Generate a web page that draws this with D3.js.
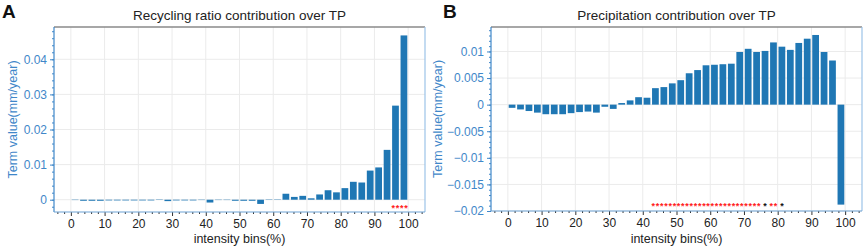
<!DOCTYPE html>
<html><head><meta charset="utf-8">
<script src="https://cdn.jsdelivr.net/npm/d3@7"></script>
<style>
body{margin:0;background:#fff;}
svg{font-family:"Liberation Sans",Arial,sans-serif;}
</style></head><body>
<svg id="c" width="865" height="246"></svg>
<script>
// bin centres (%), 40 bins of 2.5%
const bins = d3.range(40).map(k => 1.25 + 2.5 * k);
const recyclingValues = [-0.0001,-0.0003,-0.0003,-0.0003,-0.0002,-0.0002,-0.0002,-0.0002,-0.0002,-0.0002,
  0.0001,-0.0004,-0.0002,-0.0002,-0.0002,-0.0001,-0.0008,-0.0001,-0.0001,-0.0003,
  -0.0003,-0.0003,-0.0012,0.0001,0.0001,0.0017,0.0008,0.0011,0.0004,0.0015,
  0.0027,0.0021,0.0033,0.0051,0.0049,0.0083,0.0092,0.0142,0.0268,0.0468];
const precipValues = [-0.0006,-0.0009,-0.0012,-0.0015,-0.0018,-0.0018,-0.0018,-0.0016,-0.0014,-0.0013,
  -0.0015,-0.0004,-0.0008,0.0003,0.0008,0.0014,0.0013,0.0031,0.0033,0.0040,
  0.0046,0.0059,0.0065,0.0074,0.0075,0.0076,0.0077,0.0099,0.0105,0.0099,
  0.0101,0.0117,0.0109,0.0103,0.0116,0.0124,0.0131,0.0099,0.0083,-0.0188];
// significance markers per bin
const recyclingSig = bins.map((b,i) => i >= 38 ? "**" : "");
const precipSig = bins.map((b,i) => (i >= 17 && i <= 29) || i === 31 ? "**" : (i === 30 || i === 32 ? "*" : ""));
const xTicks = d3.range(0, 101, 10);
const recyclingYTicks = [0, 0.01, 0.02, 0.03, 0.04];
const precipYTicks = [-0.02, -0.015, -0.01, -0.005, 0, 0.005, 0.01];

const svg = d3.select("#c");
const blue = "#3f87c9", barColor = "#1f77b4";

function panel(o){
  const g = svg.append("g");
  const x = d3.scaleLinear().domain([-5,105]).range([o.left,o.right]);
  const y = d3.scaleLinear().domain(o.ydom).range([o.bottom,o.top]);
  // grid
  g.append("g").selectAll("line").data(xTicks).join("line")
    .attr("x1",d=>x(d)).attr("x2",d=>x(d)).attr("y1",o.top).attr("y2",o.bottom)
    .attr("stroke","#ebebeb").attr("stroke-width",1);
  g.append("g").selectAll("line").data(o.yticks).join("line")
    .attr("x1",o.left).attr("x2",o.right).attr("y1",d=>y(d)).attr("y2",d=>y(d))
    .attr("stroke","#ebebeb").attr("stroke-width",1);
  // bars
  const bw = x(2) - x(0);
  g.append("g").selectAll("rect").data(bins).join("rect")
    .attr("x",(d)=>x(d)-bw/2).attr("width",bw)
    .attr("y",(d,i)=>y(Math.max(0,o.values[i])))
    .attr("height",(d,i)=>Math.abs(y(o.values[i])-y(0)))
    .attr("fill",barColor);
  // significance: each star as its own glyph, evenly spaced within the bin
  const stars = [];
  bins.forEach((b,i) => {
    const s = o.sig[i];
    if (s === "**") { stars.push({x:b-0.625, c:"#ff2020"}); stars.push({x:b+0.625, c:"#ff2020"}); }
    else if (s === "*") stars.push({x:b, c:"#111"});
  });
  g.append("g").selectAll("text").data(stars).join("text")
    .attr("x",d=>x(d.x)).attr("y",o.sigY).attr("text-anchor","middle")
    .attr("font-size",9).attr("font-weight","bold")
    .attr("fill",d=>d.c).text("*");
  // x axis
  const xa = g.append("g").attr("transform",`translate(0,${o.bottom})`)
    .call(d3.axisBottom(x).tickValues(xTicks).tickSize(4).tickPadding(3).tickFormat(d3.format("d")));
  xa.select(".domain").remove();
  xa.selectAll("line").attr("stroke","#333");
  xa.selectAll("text").attr("font-size",12).attr("fill","#222").attr("font-family","Liberation Sans, Arial, sans-serif");
  const xm = g.append("g").attr("transform",`translate(0,${o.bottom})`)
    .call(d3.axisBottom(x).tickValues(d3.range(-4,105,2).filter(v=>v%10!==0)).tickSize(2).tickFormat(""));
  xm.select(".domain").remove();
  xm.selectAll("line").attr("stroke","#333");
  // y axis
  const fmt = d => d===0 ? "0" : (d<0 ? "\u2212" : "") + String(Math.abs(+d.toFixed(4)));
  const ya = g.append("g").attr("transform",`translate(${o.left},0)`)
    .call(d3.axisLeft(y).tickValues(o.yticks).tickSize(4).tickPadding(3).tickFormat(fmt));
  ya.select(".domain").remove();
  ya.selectAll("line").attr("stroke",blue);
  ya.selectAll("text").attr("font-size",12).attr("fill",blue).attr("font-family","Liberation Sans, Arial, sans-serif");
  const minor = d3.range(Math.round(o.ydom[0]/o.minorStep), Math.round(o.ydom[1]/o.minorStep)+1).map(k=>k*o.minorStep)
     .filter(v => v>=o.ydom[0]-1e-9 && v<=o.ydom[1]);
  const ym = g.append("g").attr("transform",`translate(${o.left},0)`)
    .call(d3.axisLeft(y).tickValues(minor).tickSize(2).tickFormat(""));
  ym.select(".domain").remove();
  ym.selectAll("line").attr("stroke",blue);
  // spines
  g.append("line").attr("x1",o.left).attr("x2",o.right).attr("y1",o.top).attr("y2",o.top).attr("stroke","#8a8a8a").attr("stroke-width",1.5);
  g.append("line").attr("x1",o.left).attr("x2",o.left).attr("y1",o.top).attr("y2",o.bottom).attr("stroke",blue).attr("stroke-width",1.2);
  g.append("line").attr("x1",o.right).attr("x2",o.right).attr("y1",o.top).attr("y2",o.bottom).attr("stroke","#9cc3e8").attr("stroke-width",1.2);
  g.append("line").attr("x1",o.left).attr("x2",o.right).attr("y1",o.bottom).attr("y2",o.bottom).attr("stroke","#6ea3d6").attr("stroke-width",1.2);
  // titles
  g.append("text").attr("x",(o.left+o.right)/2).attr("y",o.top-7).attr("text-anchor","middle")
    .attr("font-size",13.5).attr("fill","#222").text(o.title);
  g.append("text").attr("x",(o.left+o.right)/2).attr("y",243).attr("text-anchor","middle")
    .attr("font-size",12.5).attr("fill","#222").text("intensity bins(%)");
  g.append("text").attr("transform",`translate(${o.ylabX},${(o.top+o.bottom)/2}) rotate(-90)`)
    .attr("text-anchor","middle").attr("font-size",12.5).attr("fill",blue).text("Term value(mm/year)");
  g.append("text").attr("x",o.letterX).attr("y",18).attr("font-size",19).attr("font-weight","bold")
    .attr("fill","#111").text(o.letter);
}

panel({left:54,right:425,top:27,bottom:212,ydom:[-0.0035,0.0492],yticks:recyclingYTicks,minorStep:0.002,
  values:recyclingValues,sig:recyclingSig,sigY:211,title:"Recycling ratio contribution over TP",ylabX:17,letter:"A",letterX:2});
panel({left:491,right:862,top:27,bottom:211,ydom:[-0.02,0.0146],yticks:precipYTicks,minorStep:0.001,
  values:precipValues,sig:precipSig,sigY:209,title:"Precipitation contribution over TP",ylabX:442,letter:"B",letterX:443});
</script>
</body></html>
